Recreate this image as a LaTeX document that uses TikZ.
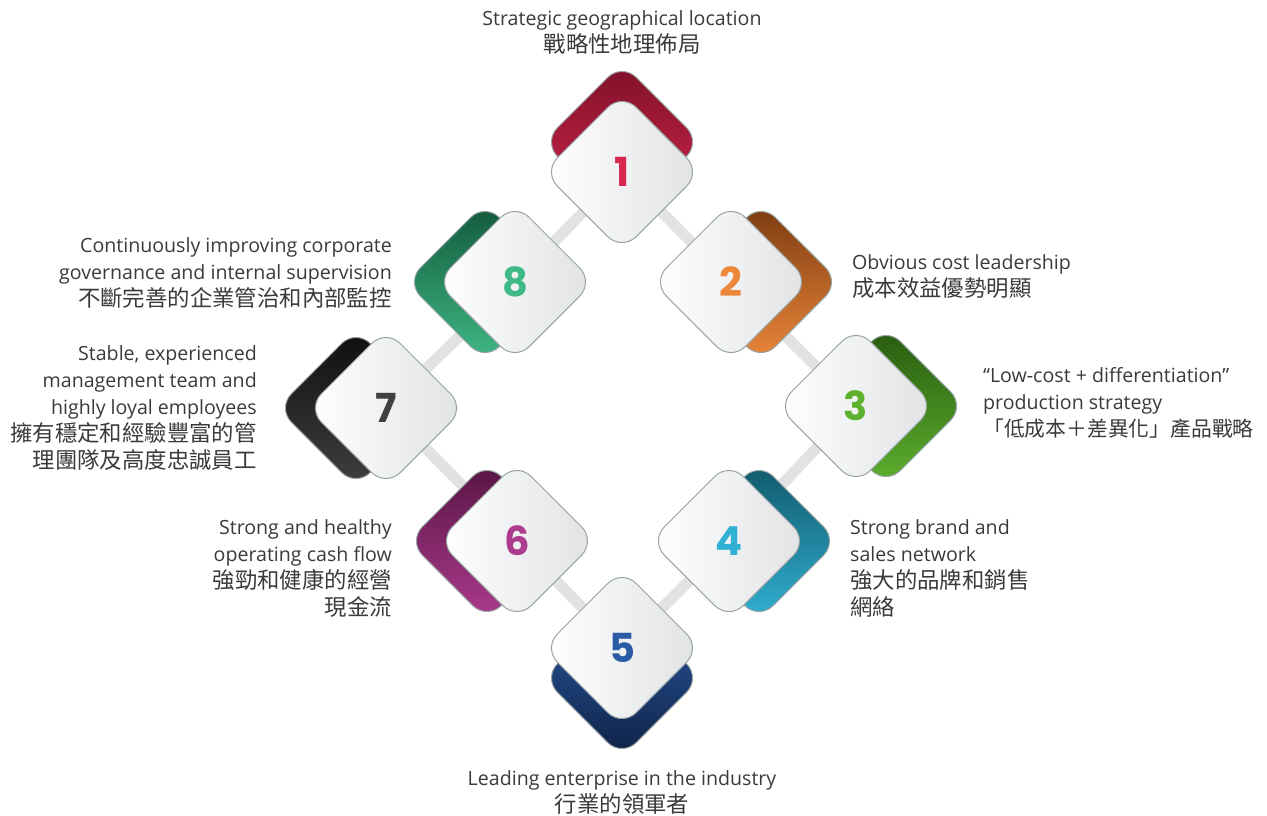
\documentclass[tikz,border=0pt]{standalone}
\usepackage{fontspec}
\setmainfont{Open Sans}
\newfontfamily\cjk{Noto Sans CJK TC}
\newfontfamily\numfont{Poppins}
\usetikzlibrary{shapes.geometric,backgrounds}
\definecolor{txt}{HTML}{3A3A3A}
\definecolor{wgray}{HTML}{E0E2E4}
\definecolor{bord}{HTML}{98A3A3}
\definecolor{conn}{HTML}{E2E2E2}
\definecolor{nA}{HTML}{D7264F}\definecolor{dA}{HTML}{7E1129}
\definecolor{nB}{HTML}{EC873A}\definecolor{dB}{HTML}{7A3A10}
\definecolor{nC}{HTML}{5DB12F}\definecolor{dC}{HTML}{27590E}
\definecolor{nD}{HTML}{30B0D2}\definecolor{dD}{HTML}{11586A}
\definecolor{nE}{HTML}{2B5BA5}\definecolor{dE}{HTML}{0E2246}
\definecolor{nF}{HTML}{AD3B8E}\definecolor{dF}{HTML}{561443}
\definecolor{nG}{HTML}{404040}\definecolor{dG}{HTML}{0E0E0E}
\definecolor{nH}{HTML}{3FB985}\definecolor{dH}{HTML}{12583A}
\tikzset{
  dia/.style={diamond, aspect=1, minimum width=158pt, minimum height=158pt,
    inner sep=0pt, rounded corners=20pt, draw=bord, line width=1pt},
  wdia/.style={dia, left color=white, right color=wgray,
    font=\numfont\bfseries\fontsize{40}{40}\selectfont, text=#1},
  cdia/.style 2 args={dia, top color=#1, middle color=#2, bottom color=#2},
  cdiaup/.style 2 args={dia, top color=#2, middle color=#2, bottom color=#1},
  connline/.style={draw=conn, line width=11pt},
  lbl/.style={font=\fontsize{19.6}{27}\selectfont, text=txt, inner sep=0pt},
}
\newcommand{\zh}[1]{{\cjk\fontsize{22.4}{27}\selectfont #1}}
\newcommand{\zhs}[1]{{\cjk\fontsize{20.8}{27}\selectfont #1}}
\begin{document}
\begin{tikzpicture}[x=1pt,y=-1pt]
\useasboundingbox (0,0) rectangle (1267,815);
% coloured backs
\node[cdia={dA}{nA}] (c1) at (622,142) {};
\node[cdia={dB}{nB}] (c2) at (761,282) {};
\node[cdia={dC}{nC}] (c3) at (886,406) {};
\node[cdia={dD}{nD}] (c4) at (759,541) {};
\node[cdiaup={dE}{nE}] (c5) at (622,678) {};
\node[cdia={dF}{nF}] (c6) at (487,541) {};
\node[cdia={dG}{nG}] (c7) at (356,408) {};
\node[cdia={dH}{nH}] (c8) at (485,282) {};
% white fronts
\node[wdia=nA] (n1) at (622,172) {1};
\node[wdia=nB] (n2) at (731,282) {2};
\node[wdia=nC] (n3) at (856,406) {3};
\node[wdia=nD] (n4) at (729,541) {4};
\node[wdia=nE] (n5) at (622,648) {5};
\node[wdia=nF] (n6) at (517,541) {6};
\node[wdia=nG] (n7) at (386,408) {7};
\node[wdia=nH] (n8) at (515,282) {8};
\begin{pgfonlayer}{background}
\draw[connline] (n1.center) -- (n2.center) -- (n3.center) -- (n4.center) -- (n5.center)
  -- (n6.center) -- (n7.center) -- (n8.center) -- cycle;
\end{pgfonlayer}
% labels
\node[lbl, anchor=north, align=center] (l1) at (622,10)
  {Strategic geographical location\\\zh{戰略性地理佈局}};
\node[lbl, anchor=north west, align=left] (l2) at (852,254)
  {Obvious cost leadership\\\zh{成本效益優勢明顯}};
\node[lbl, anchor=north west, align=left] (l3) at (983,367)
  {“Low-cost + differentiation”\\production strategy\\\zhs{「低成本＋差異化」產品戰略}};
\node[lbl, anchor=north west, align=left] (l4) at (850,519)
  {Strong brand and\\sales network\\\zh{強大的品牌和銷售}\\\zh{網絡}};
\node[lbl, anchor=north, align=center] (l5) at (622,770)
  {Leading enterprise in the industry\\\zh{行業的領軍者}};
\node[lbl, anchor=north east, align=right] (l6) at (392,519)
  {Strong and healthy\\operating cash flow\\\zh{強勁和健康的經營}\\\zh{現金流}};
\node[lbl, anchor=north east, align=right] (l7) at (257,345)
  {Stable, experienced\\management team and\\highly loyal employees\\\zh{擁有穩定和經驗豐富的管}\\\zh{理團隊及高度忠誠員工}};
\node[lbl, anchor=north east, align=right] (l8) at (392,237)
  {Continuously improving corporate\\governance and internal supervision\\\zh{不斷完善的企業管治和內部監控}};
\end{tikzpicture}
\end{document}
